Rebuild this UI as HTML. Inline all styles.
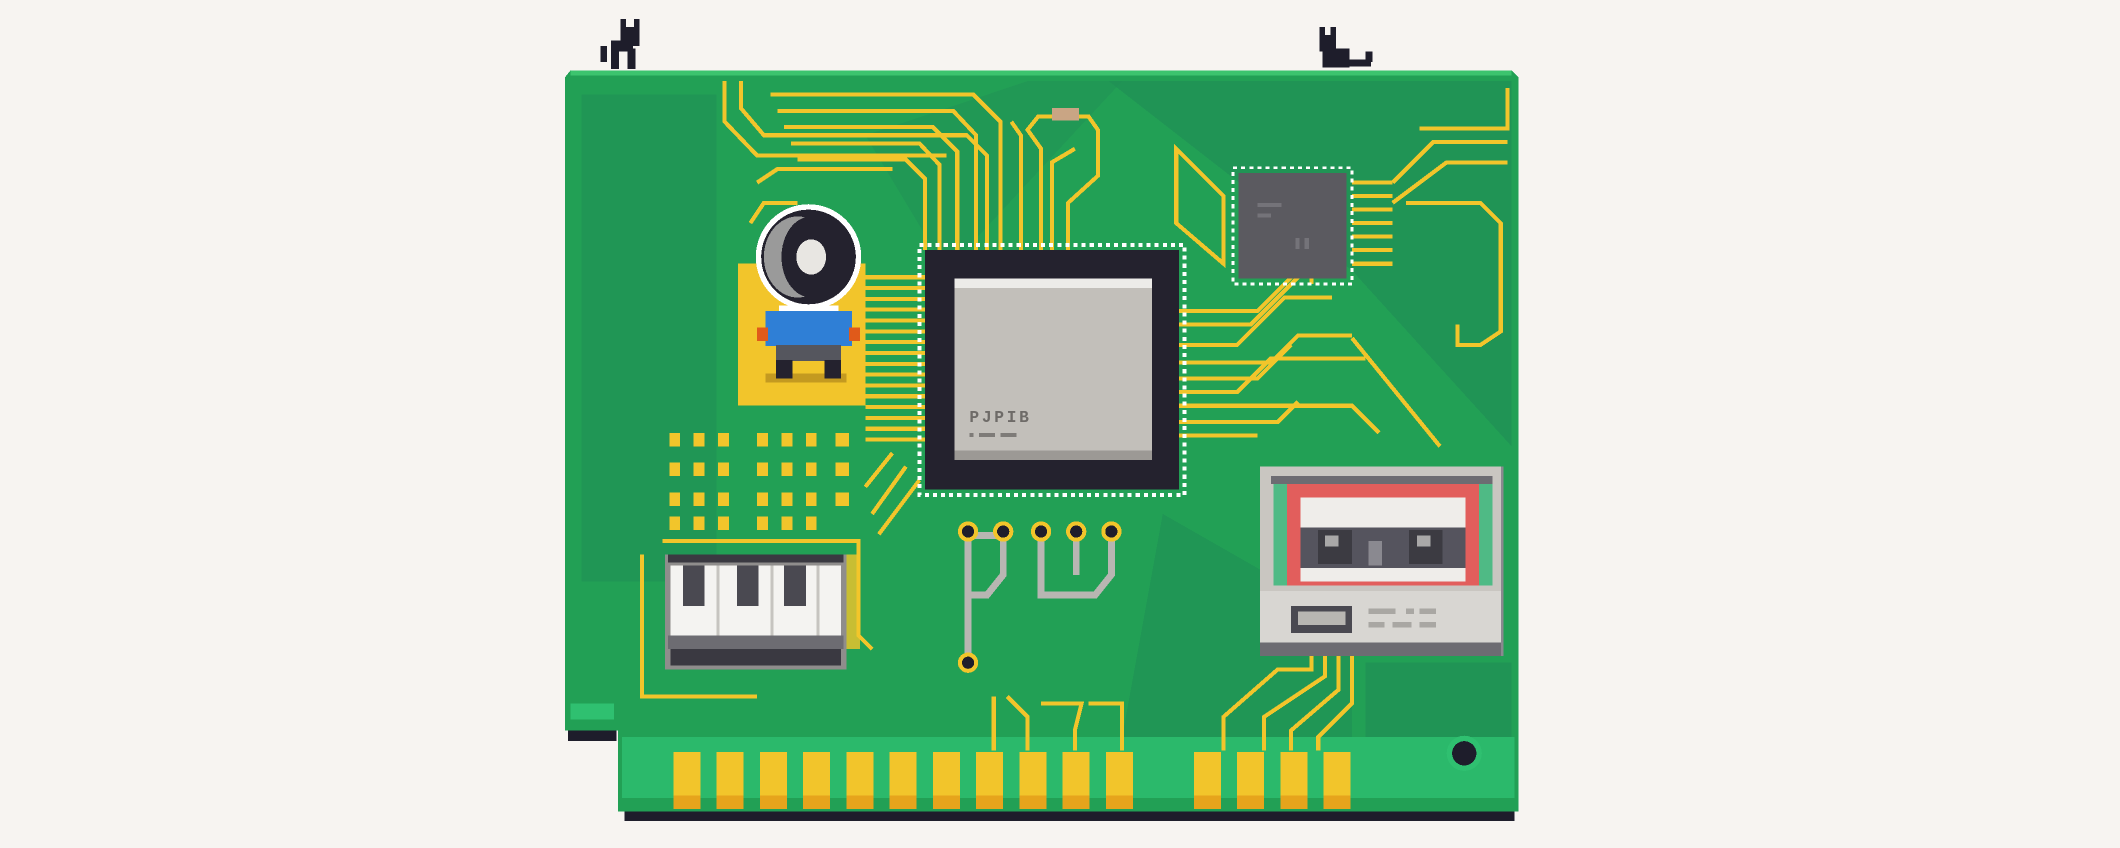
<!DOCTYPE html>
<html><head><meta charset="utf-8"><style>
html,body{margin:0;padding:0;background:#f7f4f1;}
svg{display:block}
</style></head><body>
<svg width="2120" height="848" viewBox="0 0 1568 627" preserveAspectRatio="none" xmlns="http://www.w3.org/2000/svg" shape-rendering="crispEdges">
<rect width="1568" height="627" fill="#f7f4f1"/>
<!-- cats -->
<g fill="#1e1d2b">
<rect x="459" y="14" width="4" height="10"/><rect x="469" y="14" width="4" height="10"/><rect x="459" y="20" width="14" height="14"/>
<rect x="452" y="30" width="16" height="8"/><rect x="452" y="36" width="6" height="15"/><rect x="464" y="36" width="6" height="15"/><rect x="444" y="34" width="5" height="12"/>
<rect x="976" y="20" width="4" height="8"/><rect x="984" y="20" width="4" height="8"/><rect x="976" y="26" width="12" height="12"/>
<rect x="978" y="36" width="20" height="14"/><rect x="996" y="44" width="18" height="5"/><rect x="1010" y="38" width="5" height="8"/>
</g>
<!-- board shadow -->
<rect x="420" y="538" width="36" height="10" fill="#1e1d2b"/>
<rect x="462" y="598" width="658" height="9" fill="#1e1d2b"/>
<!-- board -->
<path d="M422 52 H1118 L1123 57 V600 H457 V540 H418 V57 Z" fill="#22a055"/>
<rect x="422" y="52" width="696" height="4" fill="#3cc46e"/>
<path d="M820 60 L1118 60 V330 L1000 200 Z" fill="#1f8f55" opacity=".7"/>
<path d="M640 100 L760 60 L830 60 L700 200 Z" fill="#1f8f55" opacity=".5"/>
<path d="M430 70 H530 V430 H430 Z" fill="#1f8f55" opacity=".6"/>
<path d="M860 380 L1000 460 L1000 545 L830 545 Z" fill="#1f8f55" opacity=".6"/>
<path d="M1010 490 H1118 V545 H1010 Z" fill="#1f8f55" opacity=".7"/>
<rect x="422" y="520" width="32" height="12" fill="#2fc070"/>
<!-- bottom strip -->
<rect x="460" y="545" width="660" height="50" fill="#2bb96b"/>
<rect x="460" y="590" width="660" height="8" fill="#22a055"/>
<!-- fingers -->
<g>
<g fill="#f2c52b">
<rect x="498" y="556" width="20" height="40"/><rect x="530" y="556" width="20" height="40"/><rect x="562" y="556" width="20" height="40"/><rect x="594" y="556" width="20" height="40"/><rect x="626" y="556" width="20" height="40"/><rect x="658" y="556" width="20" height="40"/><rect x="690" y="556" width="20" height="40"/><rect x="722" y="556" width="20" height="40"/><rect x="754" y="556" width="20" height="40"/><rect x="786" y="556" width="20" height="40"/><rect x="818" y="556" width="20" height="40"/>
<rect x="883" y="556" width="20" height="40"/><rect x="915" y="556" width="20" height="40"/><rect x="947" y="556" width="20" height="40"/><rect x="979" y="556" width="20" height="40"/>
</g>
<g fill="#e6a41c">
<rect x="498" y="588" width="20" height="10"/><rect x="530" y="588" width="20" height="10"/><rect x="562" y="588" width="20" height="10"/><rect x="594" y="588" width="20" height="10"/><rect x="626" y="588" width="20" height="10"/><rect x="658" y="588" width="20" height="10"/><rect x="690" y="588" width="20" height="10"/><rect x="722" y="588" width="20" height="10"/><rect x="754" y="588" width="20" height="10"/><rect x="786" y="588" width="20" height="10"/><rect x="818" y="588" width="20" height="10"/>
<rect x="883" y="588" width="20" height="10"/><rect x="915" y="588" width="20" height="10"/><rect x="947" y="588" width="20" height="10"/><rect x="979" y="588" width="20" height="10"/>
</g>
</g>
<!-- hole -->
<circle cx="1083" cy="557" r="13" fill="#2fc070"/><circle cx="1083" cy="557" r="9" fill="#1e1d2b"/>
<!-- traces -->
<g fill="none" stroke="#f2c52b" stroke-width="3">
<path d="M536 60 V90 L560 115 H700"/>
<path d="M548 60 V80 L565 100 H715 L730 115 V185"/>
<path d="M570 70 H720 L740 90 V185"/>
<path d="M575 82 H705 L722 100 V185"/>
<path d="M580 94 H690 L708 112 V185"/>
<path d="M585 106 H680 L695 122 V185"/>
<path d="M590 118 H670 L684 132 V185"/>
<path d="M560 135 L575 125 H660"/>
<path d="M555 165 L565 150 H590"/>
<path d="M770 185 V110 L760 96 L768 86 H805 L812 96 V130 L790 150 V185"/>
<path d="M778 185 V120 L795 110"/>
<path d="M755 185 V100 L748 90"/>
<path d="M640 205 H684 M640 213 H684 M640 221 H684 M640 229 H684 M640 237 H684 M640 245 H684 M640 253 H684 M640 261 H684 M640 269 H684 M640 277 H684 M640 285 H684 M640 293 H684 M640 301 H684 M640 309 H684 M640 317 H684 M640 325 H684"/>
<path d="M872 230 H930 L970 190 V210"/>
<path d="M872 240 H925 L980 185"/>
<path d="M872 255 H915 L950 220 H985"/>
<path d="M872 268 H940 L960 248 H1000"/>
<path d="M872 280 H930 L955 255"/>
<path d="M872 290 H915 L940 265 H1010"/>
<path d="M872 300 H1000 L1020 320"/>
<path d="M872 312 H945 L960 297"/>
<path d="M872 322 H930"/>
<path d="M1000 250 L1065 330"/>
<path d="M1000 135 H1030 M1000 145 H1030 M1000 155 H1030 M1000 165 H1030 M1000 175 H1030 M1000 185 H1030 M1000 195 H1030"/>
<path d="M1030 135 L1060 105 H1115 M1030 150 L1070 120 H1115 M1050 95 H1115 V65"/>
<path d="M1040 150 H1095 L1110 165 V245 L1095 255 H1078 V240"/>
<path d="M870 110 L905 145 V195 L870 165 Z"/>
<path d="M660 335 L640 360 M670 345 L645 380 M680 355 L650 395"/>
<path d="M475 410 V515 H560 M490 400 H635 V470 L645 480"/>
<path d="M735 515 V555 M745 515 L760 530 V555 M770 520 H800 L795 540 V555 M805 520 H830 V555"/>
<path d="M1000 485 V520 L975 545 V555 M990 485 V510 L955 540 V555 M980 485 V500 L935 530 V555 M970 485 V495 H945 L905 530 V555"/>
</g>
<!-- pad grid -->
<g fill="#f2c52b">
<rect x="495" y="320" width="8" height="10"/><rect x="513" y="320" width="8" height="10"/><rect x="531" y="320" width="8" height="10"/><rect x="560" y="320" width="8" height="10"/><rect x="578" y="320" width="8" height="10"/><rect x="596" y="320" width="8" height="10"/><rect x="618" y="320" width="10" height="10"/>
<rect x="495" y="342" width="8" height="10"/><rect x="513" y="342" width="8" height="10"/><rect x="531" y="342" width="8" height="10"/><rect x="560" y="342" width="8" height="10"/><rect x="578" y="342" width="8" height="10"/><rect x="596" y="342" width="8" height="10"/><rect x="618" y="342" width="10" height="10"/>
<rect x="495" y="364" width="8" height="10"/><rect x="513" y="364" width="8" height="10"/><rect x="531" y="364" width="8" height="10"/><rect x="560" y="364" width="8" height="10"/><rect x="578" y="364" width="8" height="10"/><rect x="596" y="364" width="8" height="10"/><rect x="618" y="364" width="10" height="10"/>
<rect x="495" y="382" width="8" height="10"/><rect x="513" y="382" width="8" height="10"/><rect x="531" y="382" width="8" height="10"/><rect x="560" y="382" width="8" height="10"/><rect x="578" y="382" width="8" height="10"/><rect x="596" y="382" width="8" height="10"/>
<rect x="626" y="410" width="10" height="70" opacity=".8"/>
</g>
<!-- resistor -->
<rect x="778" y="80" width="20" height="9" fill="#c9a584"/>
<!-- robot -->
<rect x="546" y="195" width="94" height="105" fill="#f2c52b"/>
<rect x="566" y="276" width="60" height="7" fill="#c49a20"/>
<circle cx="598" cy="190" r="39" fill="#fff"/>
<circle cx="598" cy="190" r="35" fill="#24222e"/>
<ellipse cx="590" cy="190" rx="25" ry="30" fill="#9a9a9a"/>
<ellipse cx="600" cy="190" rx="22" ry="30" fill="#24222e"/>
<ellipse cx="600" cy="190" rx="11" ry="13" fill="#e8e6e2"/>
<rect x="576" y="226" width="44" height="5" fill="#fff"/>
<rect x="566" y="230" width="64" height="26" fill="#2f7fd6"/>
<rect x="560" y="242" width="8" height="10" fill="#e05a1a"/><rect x="628" y="242" width="8" height="10" fill="#e05a1a"/>
<rect x="574" y="255" width="48" height="12" fill="#55565e"/>
<rect x="574" y="266" width="12" height="14" fill="#24222e"/><rect x="610" y="266" width="12" height="14" fill="#24222e"/>
<!-- CPU -->
<rect x="680" y="181" width="196" height="185" fill="none" stroke="#fff" stroke-width="3" stroke-dasharray="3 3"/>
<rect x="684" y="185" width="188" height="177" fill="#24222e"/>
<rect x="706" y="206" width="146" height="134" fill="#c2bfba"/>
<rect x="706" y="206" width="146" height="7" fill="#ecebe8"/>
<rect x="706" y="333" width="146" height="7" fill="#9c9995"/>
<text x="717" y="312" font-family="Liberation Mono, monospace" font-weight="bold" font-size="12" fill="#6e6b68" letter-spacing="2">PJPIB</text>
<rect x="717" y="320" width="3" height="3" fill="#7e7b78"/><rect x="724" y="320" width="12" height="3" fill="#7e7b78"/><rect x="740" y="320" width="12" height="3" fill="#7e7b78"/>
<!-- small chip -->
<rect x="912" y="124" width="88" height="86" fill="none" stroke="#fff" stroke-width="2" stroke-dasharray="3 3"/>
<rect x="916" y="128" width="80" height="78" fill="#5b5a60"/>
<rect x="930" y="150" width="18" height="3" fill="#747379"/><rect x="930" y="158" width="10" height="3" fill="#747379"/><rect x="958" y="176" width="3" height="8" fill="#747379"/><rect x="965" y="176" width="3" height="8" fill="#747379"/>
<!-- pw -->
<g fill="none" stroke="#b8b6b2" stroke-width="5">
<path d="M716 396 V488 M716 440 H730 L742 425 V396"/>
<path d="M770 396 V440 H810 L822 425 V396 M796 396 V425"/>
<path d="M742 396 H716"/>
</g>
<g fill="#1e1d2b" stroke="#f2c52b" stroke-width="3">
<circle cx="716" cy="393" r="6"/><circle cx="742" cy="393" r="6"/><circle cx="770" cy="393" r="6"/><circle cx="796" cy="393" r="6"/><circle cx="822" cy="393" r="6"/><circle cx="716" cy="490" r="6"/>
</g>
<!-- piano -->
<rect x="492" y="410" width="134" height="85" fill="#8f8d8c"/>
<rect x="494" y="410" width="130" height="6" fill="#3a3941"/>
<rect x="496" y="418" width="126" height="52" fill="#f4f3f1"/>
<rect x="505" y="418" width="16" height="30" fill="#4a4951"/><rect x="545" y="418" width="16" height="30" fill="#4a4951"/><rect x="580" y="418" width="16" height="30" fill="#4a4951"/>
<rect x="530" y="418" width="2" height="52" fill="#c6c4c0"/><rect x="570" y="418" width="2" height="52" fill="#c6c4c0"/><rect x="604" y="418" width="2" height="52" fill="#c6c4c0"/>
<rect x="494" y="470" width="130" height="10" fill="#6d6c72"/>
<rect x="496" y="480" width="126" height="12" fill="#3a3941"/>
<!-- cassette -->
<rect x="932" y="345" width="180" height="140" fill="#8a8990"/>
<rect x="932" y="345" width="178" height="132" fill="#c9c6c1"/>
<rect x="940" y="352" width="164" height="6" fill="#6d6c72"/>
<rect x="942" y="358" width="10" height="75" fill="#4fba85"/><rect x="1094" y="358" width="10" height="75" fill="#4fba85"/>
<rect x="952" y="358" width="142" height="75" fill="#e25e5c"/>
<rect x="962" y="368" width="122" height="62" fill="#efedea"/>
<rect x="962" y="390" width="122" height="30" fill="#55545e"/>
<rect x="975" y="392" width="25" height="25" fill="#3c3b42"/><rect x="1042" y="392" width="25" height="25" fill="#3c3b42"/>
<rect x="980" y="396" width="10" height="8" fill="#a9a8a8"/><rect x="1048" y="396" width="10" height="8" fill="#a9a8a8"/>
<rect x="1012" y="400" width="10" height="18" fill="#8a8990"/>
<rect x="932" y="437" width="178" height="38" fill="#d8d6d2"/>
<rect x="955" y="448" width="45" height="20" fill="#4a4951"/><rect x="960" y="452" width="35" height="10" fill="#b8b6b2"/>
<rect x="1012" y="450" width="20" height="4" fill="#a9a7a3"/><rect x="1040" y="450" width="6" height="4" fill="#a9a7a3"/><rect x="1050" y="450" width="12" height="4" fill="#a9a7a3"/>
<rect x="1012" y="460" width="12" height="4" fill="#a9a7a3"/><rect x="1030" y="460" width="14" height="4" fill="#a9a7a3"/><rect x="1050" y="460" width="12" height="4" fill="#a9a7a3"/>
<rect x="932" y="475" width="178" height="10" fill="#6d6c72"/>
</svg>
</body></html>
